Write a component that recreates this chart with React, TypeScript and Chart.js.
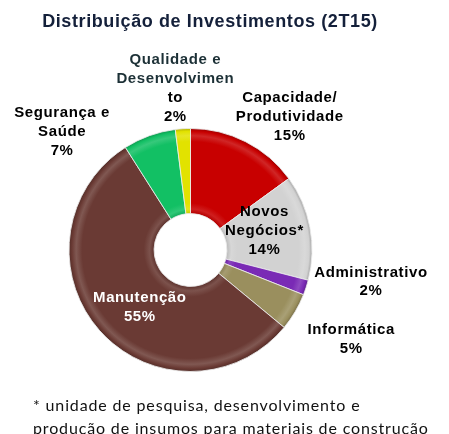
import React, { useEffect, useRef } from "react";
import { Chart, registerables } from "chart.js";

Chart.register(...registerables);

const title = "Distribuição de Investimentos (2T15)";
const labelLines: string[][] = [
  ["Capacidade/", "Produtividade"],
  ["Novos", "Negócios*"],
  ["Administrativo"],
  ["Informática"],
  ["Manutenção"],
  ["Segurança e", "Saúde"],
  ["Qualidade e", "Desenvolvimen", "to"],
];
const categories = labelLines.map((l) => l.join(" "));
const values = [15, 14, 2, 5, 55, 7, 2];
const colors = ["#c80000", "#d2d2d2", "#7a2ab5", "#9a8f5e", "#6a3a34", "#12c064", "#e2e200"];
const footnote = [
  "* unidade de pesquisa, desenvolvimento e",
  "produção de insumos para materiais de construção",
];

// label placement style: radial factor, dx, dy, text color
const labelStyle = [
  { k: 1.2, dx: 33, dy: -3, color: "#000000" },
  { k: 0.62, dx: 0, dy: -5, color: "#000000" },
  { k: 1.25, dx: 36, dy: -15, color: "#000000" },
  { k: 1.25, dx: 30, dy: 12, color: "#000000" },
  { k: 0.6, dx: 4, dy: 9, color: "#ffffff" },
  { k: 1.2, dx: -79, dy: 19, color: "#000000" },
  { k: 1.2, dx: -6, dy: -16, color: "#1c3036" },
];

function shade(hex: string, amt: number): string {
  const n = parseInt(hex.slice(1), 16);
  let r = (n >> 16) & 255, g = (n >> 8) & 255, b = n & 255;
  if (amt >= 0) {
    r = Math.round(r + (255 - r) * amt);
    g = Math.round(g + (255 - g) * amt);
    b = Math.round(b + (255 - b) * amt);
  } else {
    r = Math.round(r * (1 + amt));
    g = Math.round(g * (1 + amt));
    b = Math.round(b * (1 + amt));
  }
  return `rgb(${r},${g},${b})`;
}

const textPlugin = {
  id: "textPlugin",
  afterDraw(chart: any) {
    const ctx = chart.ctx as CanvasRenderingContext2D;
    ctx.save();
    // title
    ctx.textAlign = "center";
    ctx.textBaseline = "middle";
    ctx.fillStyle = "#14203a";
    ctx.font = 'bold 18px "Liberation Sans", Arial, sans-serif';
    (ctx as any).letterSpacing = "0.6px";
    ctx.fillText(title, 210, 22);

    // slice labels
    const meta = chart.getDatasetMeta(0);
    ctx.font = 'bold 15px "Liberation Sans", Arial, sans-serif';
    (ctx as any).letterSpacing = "0.6px";
    meta.data.forEach((arc: any, i: number) => {
      const p = arc.getProps(["x", "y", "startAngle", "endAngle", "outerRadius"], true);
      const mid = (p.startAngle + p.endAngle) / 2;
      const st = labelStyle[i];
      const ax = p.x + Math.cos(mid) * p.outerRadius * st.k + st.dx;
      const ay = p.y + Math.sin(mid) * p.outerRadius * st.k + st.dy;
      const lines = [...labelLines[i], values[i] + "%"];
      const lh = 18.8;
      const y0 = ay - ((lines.length - 1) * lh) / 2;
      lines.forEach((t, j) => {
        ctx.fillStyle = i === 6 && j >= 2 ? "#000000" : st.color;
        ctx.fillText(t, ax, y0 + j * lh);
      });
    });

    // footnote
    ctx.textAlign = "left";
    ctx.textBaseline = "alphabetic";
    ctx.fillStyle = "#111111";
    ctx.font = '16px Lato, "Liberation Sans", sans-serif';
    (ctx as any).letterSpacing = "0.85px";
    ctx.fillText(footnote[0], 33, 411);
    ctx.fillText(footnote[1], 33, 434);
    ctx.restore();
  },
};

export default function App() {
  const ref = useRef<HTMLCanvasElement | null>(null);
  useEffect(() => {
    if (!ref.current) return;
    const chart = new Chart(ref.current, {
      type: "doughnut",
      data: {
        labels: categories,
        datasets: [
          {
            data: values,
            backgroundColor: (c: any) => {
              const base = colors[c.dataIndex];
              const ch = c.chart;
              const area = ch.chartArea;
              if (!area || base === undefined) return base;
              const cx = (area.left + area.right) / 2;
              const cy = (area.top + area.bottom) / 2;
              const R = Math.min(area.right - area.left, area.bottom - area.top) / 2;
              const r0 = R * 0.3;
              const g = ch.ctx.createRadialGradient(cx, cy, r0, cx, cy, R);
              g.addColorStop(0, shade(base, -0.1));
              g.addColorStop(0.05, shade(base, 0.12));
              g.addColorStop(0.12, base);
              g.addColorStop(0.84, base);
              g.addColorStop(0.91, shade(base, 0.15));
              g.addColorStop(0.96, base);
              g.addColorStop(1, shade(base, -0.25));
              return g;
            },
            borderColor: "rgba(235,235,235,0.85)",
            borderWidth: 1,
          },
        ],
      },
      options: {
        responsive: false,
        maintainAspectRatio: false,
        animation: false,
        cutout: "30%",
        rotation: 0,
        layout: { padding: { left: 68, right: 136, top: 128, bottom: 62 } },
        plugins: {
          legend: { display: false },
          tooltip: { enabled: false },
          title: { display: false },
        },
      },
      plugins: [textPlugin],
    });
    return () => chart.destroy();
  }, []);
  return (
    <div style={{ position: "absolute", left: 0, top: 0, width: 449, height: 434, background: "#ffffff" }}>
      <canvas ref={ref} width={449} height={434} style={{ display: "block" }} />
    </div>
  );
}
